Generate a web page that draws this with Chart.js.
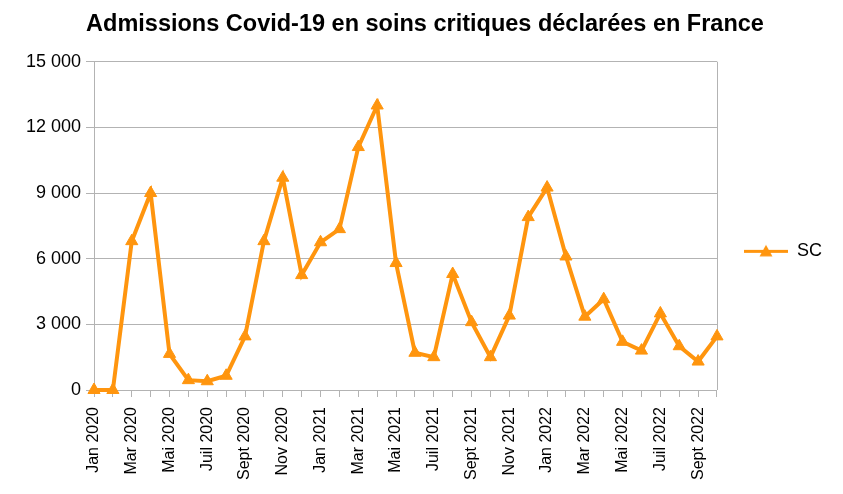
<!DOCTYPE html>
<html><head><meta charset="utf-8">
<script src="https://cdn.jsdelivr.net/npm/chart.js@4"></script>
<style>html,body{margin:0;padding:0;background:#fff}#wrap{width:843px;height:494px}</style>
</head><body><div id="wrap"><canvas id="c" width="843" height="494"></canvas></div>
<script>
const categories = [
  'Jan 2020','Fév 2020','Mar 2020','Avr 2020','Mai 2020','Juin 2020','Juil 2020','Août 2020','Sept 2020','Oct 2020','Nov 2020','Déc 2020',
  'Jan 2021','Fév 2021','Mar 2021','Avr 2021','Mai 2021','Juin 2021','Juil 2021','Août 2021','Sept 2021','Oct 2021','Nov 2021','Déc 2021',
  'Jan 2022','Fév 2022','Mar 2022','Avr 2022','Mai 2022','Juin 2022','Juil 2022','Août 2022','Sept 2022','Oct 2022'
];
const scValues = [
  0, 0, 6800, 9000, 1650, 450, 400, 650, 2450, 6800, 9700, 5250,
  6750, 7350, 11100, 13000, 5800, 1700, 1500, 5300, 3100, 1500, 3400, 7900,
  9250, 6100, 3350, 4150, 2200, 1800, 3500, 2000, 1300, 2450
];
const yTicks = [0, 3000, 6000, 9000, 12000, 15000];
const seriesName = 'SC';
const titleText = 'Admissions Covid-19 en soins critiques déclarées en France';

const ORANGE = '#ff950e';
const GRID = '#b3b3b3';

function fmt(v){ return String(v).replace(/\B(?=(\d{3})+(?!\d))/g, ' '); }

// legend symbol: line with triangle marker
const sym = document.createElement('canvas');
sym.width = 44; sym.height = 16;
(function(){
  const g = sym.getContext('2d');
  g.strokeStyle = ORANGE; g.lineWidth = 3;
  g.beginPath(); g.moveTo(0, 8.5); g.lineTo(44, 8.5); g.stroke();
  g.fillStyle = ORANGE;
  g.beginPath(); g.moveTo(22, 2); g.lineTo(28.5, 13.5); g.lineTo(15.5, 13.5); g.closePath(); g.fill();
})();

const frameLines = {
  id: 'frameLines',
  afterLayout(chart){
    const L = chart.legend;
    if (L) { L.top += 25; L.bottom += 25; }
    const T = chart.titleBlock;
    if (T) { T.left += 9; T.right += 9; }
  },
  beforeDatasetsDraw(chart){
    const a = chart.chartArea, ctx = chart.ctx;
    ctx.save();
    ctx.strokeStyle = GRID; ctx.lineWidth = 1;
    ctx.beginPath();
    ctx.moveTo(Math.round(a.right) + 0.5, a.top);
    ctx.lineTo(Math.round(a.right) + 0.5, a.bottom);
    ctx.stroke();
    ctx.restore();
  }
};

new Chart(document.getElementById('c'), {
  type: 'line',
  data: {
    labels: categories,
    datasets: [{
      label: seriesName,
      data: scValues,
      borderColor: ORANGE,
      backgroundColor: ORANGE,
      borderWidth: 4,
      pointStyle: 'triangle',
      pointRadius: 7,
      pointBorderWidth: 1,
      pointBackgroundColor: ORANGE,
      pointBorderColor: ORANGE,
      tension: 0,
      clip: false
    }]
  },
  options: {
    responsive: false,
    devicePixelRatio: 1,
    animation: false,
    layout: { padding: { left: 0, right: 11, top: 0, bottom: 0 } },
    plugins: {
      title: {
        display: true,
        text: titleText,
        color: '#000',
        font: { family: "'Liberation Sans Narrow','Arial Narrow','Liberation Sans'", size: 23.5, weight: 'bold' },
        padding: { top: 10, bottom: 23.5 }
      },
      legend: {
        position: 'right',
        align: 'center',
        fullSize: false,
        labels: {
          usePointStyle: true,
          pointStyleWidth: 44,
          padding: 27,
          color: '#000',
          font: { family: 'Liberation Sans', size: 18 },
          generateLabels: () => [{ text: seriesName, pointStyle: sym, fillStyle: ORANGE, strokeStyle: ORANGE, lineWidth: 0, hidden: false, datasetIndex: 0 }]
        }
      },
      tooltip: { enabled: false }
    },
    scales: {
      x: {
        type: 'category',
        offset: false,
        grid: { display: true, drawOnChartArea: false, color: GRID, tickColor: GRID, tickLength: 7 },
        border: { color: GRID },
        ticks: {
          autoSkip: false, maxRotation: 90, minRotation: 90, padding: 10, color: '#000',
          font: { family: 'Liberation Sans', size: 16 },
          callback: (v, i) => (i % 2 === 0 ? categories[i] : '')
        },
        afterFit: s => { s.height = 104; }
      },
      y: {
        min: 0, max: 15000,
        afterBuildTicks: s => { s.ticks = yTicks.map(v => ({ value: v })); },
        grid: { color: GRID, tickColor: GRID, tickLength: 8 },
        border: { color: GRID },
        ticks: { color: '#000', padding: 5, font: { family: 'Liberation Sans', size: 18 }, callback: v => fmt(v) },
        afterFit: s => { s.width = 94; }
      }
    }
  },
  plugins: [frameLines]
});
</script>
</body></html>
